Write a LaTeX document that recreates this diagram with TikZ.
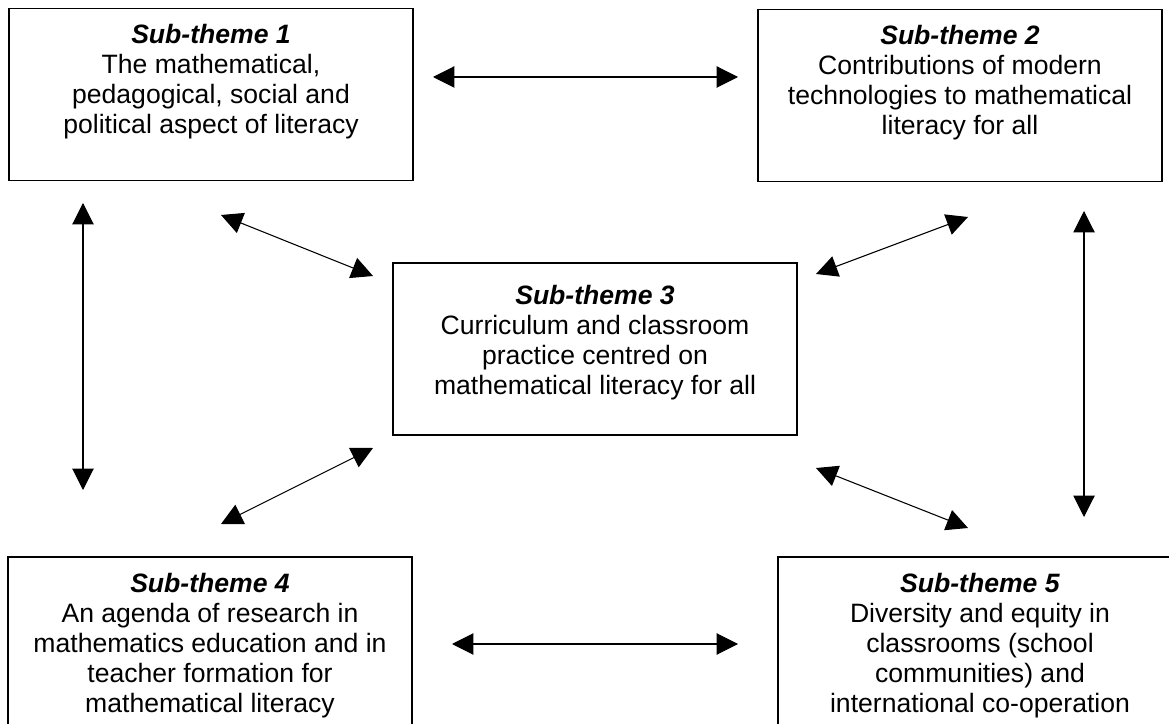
\documentclass[tikz,border=0pt]{standalone}
\usepackage{fontspec}
\setmainfont{Liberation Sans}
\usetikzlibrary{arrows.meta,positioning}

\begin{document}
\begin{tikzpicture}[x=0.7pt, y=-0.7pt,
        theme/.style={rectangle, draw, line width=0.9pt, minimum width=282.8pt, minimum height=120.4pt, inner sep=0pt},
        themetext/.style={align=center, inner sep=0pt, outer sep=0pt, font=\fontsize{18.6pt}{21pt}\selectfont},
        link/.style={line width=0.75pt, {Triangle[length=15pt, width=15pt]}-{Triangle[length=15pt, width=15pt]}}]
        \clip (0,0) rectangle (1169,724);

        % sub-theme frames
        \node[theme] (s1) at (211, 94.5) {};
        \node[theme] (s2) at (960, 95.5) {};
        \node[theme] (s3) at (595, 349) {};
        \node[theme] (s4) at (210, 643) {};
        \node[theme] (s5) at (980, 643) {};

        % sub-theme texts
        \node[themetext, below=11.5pt of s1.north] (t1) {\textbf{\textit{Sub-theme 1}}\\The mathematical,\\pedagogical, social and\\political aspect of literacy};
        \node[themetext, below=11.5pt of s2.north] (t2) {\textbf{\textit{Sub-theme 2}}\\Contributions of modern\\technologies to mathematical\\literacy for all};
        \node[themetext, below=15.7pt of s3.north] (t3) {\textbf{\textit{Sub-theme 3}}\\Curriculum and classroom\\practice centred on\\mathematical literacy for all};
        \node[themetext, below=11.5pt of s4.north] (t4) {\textbf{\textit{Sub-theme 4}}\\An agenda of research in\\mathematics education and in\\teacher formation for\\mathematical literacy};
        \node[themetext, below=11.5pt of s5.north] (t5) {\textbf{\textit{Sub-theme 5}}\\Diversity and equity in\\classrooms (school\\communities) and\\international co-operation};

        % arrow ends
        \coordinate (e12) at (433, 77);
        \coordinate (e21) at (738, 77);
        \coordinate (e14) at (83, 203);
        \coordinate (e41) at (83, 490);
        \coordinate (e25) at (1084, 211);
        \coordinate (e52) at (1084, 517);
        \coordinate (e13) at (221, 215);
        \coordinate (e31) at (373, 276);
        \coordinate (e23) at (968, 217);
        \coordinate (e32) at (816, 274);
        \coordinate (e43) at (221, 524);
        \coordinate (e34) at (373, 448);
        \coordinate (e53) at (968, 528);
        \coordinate (e35) at (816, 468);
        \coordinate (e45) at (452, 644);
        \coordinate (e54) at (738, 644);

        \draw[link] (e12) -- (e21);
        \draw[link] (e14) -- (e41);
        \draw[link] (e25) -- (e52);
        \draw[link] (e13) -- (e31);
        \draw[link] (e23) -- (e32);
        \draw[link] (e43) -- (e34);
        \draw[link] (e53) -- (e35);
        \draw[link] (e45) -- (e54);
    \end{tikzpicture}
\end{document}
